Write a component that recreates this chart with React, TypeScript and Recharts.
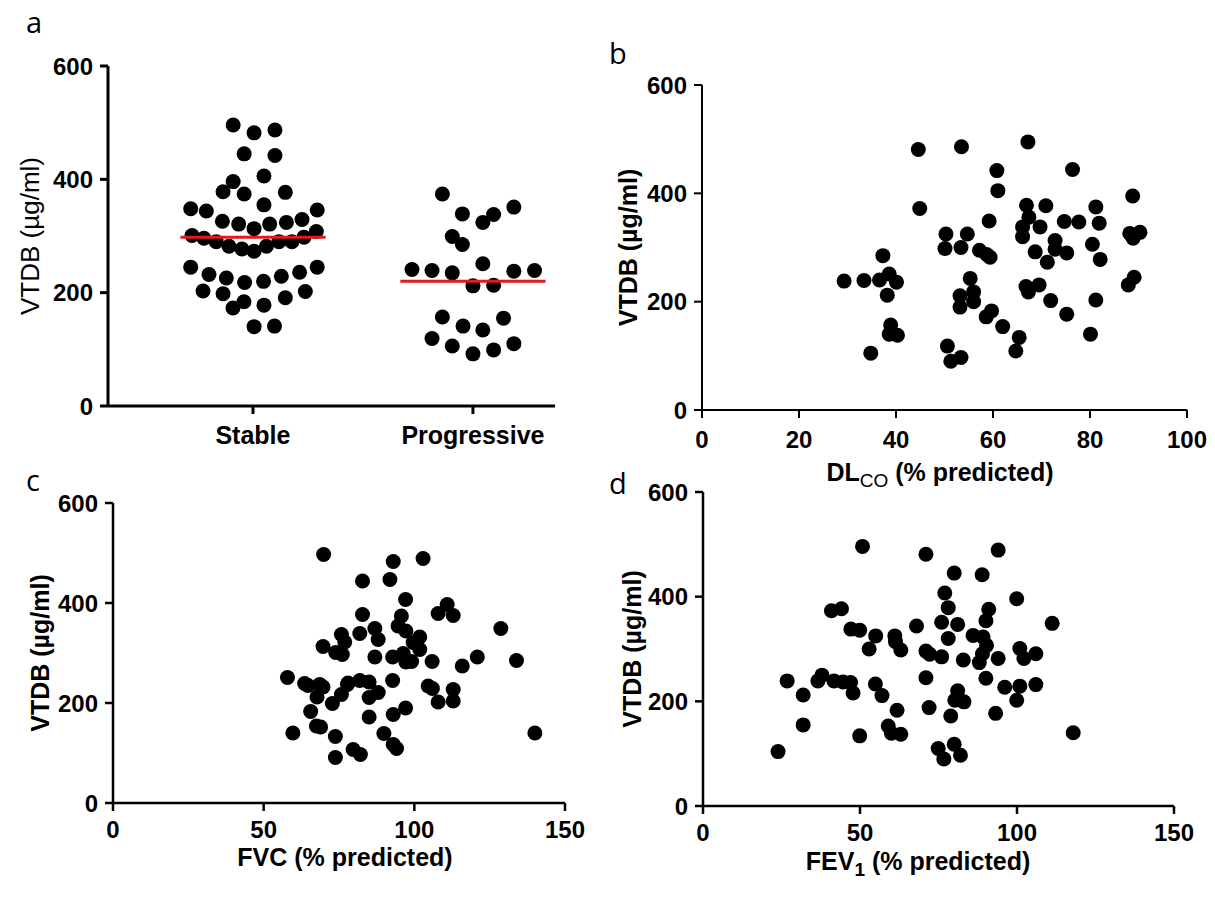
import React from 'react'
import { Scatter, ScatterChart, XAxis, YAxis } from 'recharts'

// panel a: VTDB by group (beeswarm, jitter)
const groups = ['Stable', 'Progressive']
const stableVtdb = [
  496, 482, 487, 445, 442, 406, 396, 378, 374, 377, 355, 348, 344, 346, 326, 321,
  313, 321, 324, 329, 301, 296, 290, 282, 277, 273, 282, 290, 290, 298, 308, 245,
  232, 226, 218, 220, 229, 236, 245, 203, 198, 184, 173, 178, 191, 202, 140, 141,
]
const stableJitter = [
  -0.09, 0.005, 0.1, -0.04, 0.1, 0.05, -0.09, -0.136, -0.04, 0.147, 0.05, -0.283,
  -0.212, 0.292, -0.139, -0.065, 0.005, 0.076, 0.152, 0.223, -0.277, -0.223, -0.167,
  -0.109, -0.05, 0.005, 0.061, 0.118, 0.177, 0.232, 0.288, -0.283, -0.2, -0.121,
  -0.038, 0.048, 0.129, 0.212, 0.292, -0.227, -0.136, -0.041, -0.091, 0.05, 0.147,
  0.238, 0.005, 0.098,
]
const progressiveVtdb = [
  374, 339, 324, 338, 351, 299, 285, 241, 239, 235, 251, 238, 239, 212, 213, 157,
  155, 141, 134, 119, 106, 92, 99, 110,
]
const progressiveJitter = [
  -0.139, -0.048, 0.045, 0.094, 0.186, -0.094, -0.048, -0.277, -0.186, -0.094, 0.045,
  0.186, 0.28, 0, 0.094, -0.139, 0.139, -0.045, 0.045, -0.186, -0.094, 0, 0.094, 0.186,
]
const groupMeans = [298, 220]

// panel b: VTDB vs DLCO
const dlcoPct = [
  44.6, 44.9, 37.3, 29.3, 33.4, 36.6, 38.6, 40.1, 38.2, 38.9, 38.6, 40.3, 34.8, 53.5,
  67.2, 60.8, 76.4, 61.0, 88.8, 66.9, 70.9, 81.2, 59.2, 67.4, 74.7, 77.7, 81.9, 66.1,
  69.7, 50.3, 54.7, 66.1, 88.2, 90.3, 88.9, 72.8, 80.5, 50.1, 53.4, 57.2, 58.7, 59.4,
  72.8, 75.2, 68.7, 71.2, 82.1, 55.3, 56.0, 53.2, 56.0, 53.2, 66.8, 69.5, 67.3, 89.1,
  87.9, 71.9, 81.2, 59.7, 58.6, 62.0, 75.2, 80.1, 65.4, 64.7, 50.6, 51.3, 53.4,
]
const dlcoVtdb = [
  481, 372, 285, 238, 239, 240, 251, 236, 212, 157, 140, 138, 105, 486, 495, 442, 444,
  405, 395, 378, 377, 375, 349, 356, 348, 347, 345, 338, 338, 325, 325, 320, 326, 328,
  317, 313, 306, 298, 300, 295, 287, 282, 297, 290, 292, 273, 278, 243, 218, 211, 200,
  190, 228, 231, 218, 245, 231, 202, 203, 183, 172, 154, 177, 140, 134, 109, 118, 90, 97,
]

// panel c: VTDB vs FVC
const fvcPct = [
  69.9, 75.8, 76.9, 69.7, 73.9, 76.1, 57.9, 63.6, 64.7, 68.6, 69.7, 67.7, 75.8, 77.8,
  72.8, 65.6, 67.5, 68.9, 59.7, 73.8, 73.8, 93.0, 102.9, 82.8, 91.9, 97.1, 110.9, 107.9,
  112.9, 82.8, 95.7, 94.6, 97.2, 128.7, 81.9, 86.9, 88.0, 101.8, 99.6, 101.8, 86.9, 92.8,
  96.3, 97.2, 99.1, 105.9, 120.9, 115.9, 133.9, 78.0, 81.9, 85.0, 88.0, 85.0, 92.8, 104.6,
  106.0, 112.9, 112.9, 107.9, 85.0, 93.0, 97.1, 89.9, 93.0, 94.1, 79.7, 82.1, 140.0,
]
const fvcVtdb = [
  497, 337, 322, 313, 301, 297, 251, 239, 235, 237, 232, 212, 217, 237, 199, 183, 154,
  152, 140, 133, 91, 483, 489, 444, 447, 407, 397, 379, 375, 377, 374, 354, 344, 349,
  339, 349, 327, 332, 321, 307, 292, 292, 299, 282, 283, 283, 292, 274, 285, 240, 245,
  242, 221, 211, 245, 234, 229, 227, 204, 202, 172, 177, 190, 139, 117, 109, 107, 97, 140,
]

// panel d: VTDB vs FEV1
const fev1Pct = [
  50.8, 71.0, 40.9, 44.1, 47.1, 49.9, 55.0, 61.1, 61.3, 63.0, 52.9, 68.0, 71.0, 72.2,
  26.8, 31.9, 36.6, 37.9, 41.7, 44.6, 47.0, 47.8, 54.9, 57.0, 71.0, 61.8, 72.0, 31.9,
  49.9, 59.0, 60.0, 63.0, 23.9, 94.0, 80.0, 88.9, 77.0, 99.9, 78.1, 91.0, 90.1, 111.2,
  76.0, 81.1, 78.1, 86.0, 89.2, 90.3, 76.0, 82.9, 88.0, 89.0, 94.0, 100.9, 102.2, 106.0,
  90.1, 96.1, 100.9, 106.0, 99.9, 81.1, 80.2, 83.1, 78.9, 93.2, 117.9, 74.9, 80.0, 76.7,
  82.0,
]
const fev1Vtdb = [
  496, 481, 373, 377, 338, 336, 325, 325, 314, 298, 300, 344, 296, 290, 239, 212, 239,
  250, 239, 237, 236, 216, 233, 211, 245, 183, 188, 155, 134, 153, 139, 137, 104, 489,
  445, 442, 407, 396, 379, 376, 354, 349, 351, 347, 320, 326, 323, 307, 285, 279, 274,
  291, 282, 301, 282, 291, 244, 227, 229, 232, 202, 220, 202, 199, 172, 177, 140, 110,
  118, 90, 97,
]

const yTicks = [0, 200, 400, 600]

const FONT = '"Liberation Sans", Arial, Helvetica, sans-serif'
const tickStyle = { fill: '#000', fontSize: 24, fontWeight: 700, fontFamily: FONT }

const toPoints = (xs: number[], ys: number[]) => xs.map((x, i) => ({ x, y: ys[i] }))

const stablePoints = stableVtdb.map((y, i) => ({ x: 0 + stableJitter[i], y }))
const progressivePoints = progressiveVtdb.map((y, i) => ({ x: 1 + progressiveJitter[i], y }))
const meanHalf = 0.33
const stableMean = [
  { x: -meanHalf, y: groupMeans[0] },
  { x: meanHalf, y: groupMeans[0] },
]
const progressiveMean = [
  { x: 1 - meanHalf, y: groupMeans[1] },
  { x: 1 + meanHalf, y: groupMeans[1] },
]

const Dot = (props: any) => <circle cx={props.cx} cy={props.cy} r={7.5} fill="#000" />
const NoDot = () => <g />

// rotated y axis title
const yTitle = (cx: number, bold: boolean) => (props: any) => {
  const vb = props.viewBox
  const cy = vb.y + vb.height / 2
  return (
    <text
      x={cx}
      y={cy}
      transform={`rotate(-90 ${cx} ${cy})`}
      textAnchor="middle"
      dominantBaseline="central"
      fontFamily={FONT}
      fontSize={bold ? 25 : 26}
      fontWeight={bold ? 700 : 400}
      fill="#000"
    >
      VTDB (µg/ml)
    </text>
  )
}

const xTitle = (cx: number, y: number, main: string, sub: string, rest: string, subBold: boolean) =>
  () => (
    <text x={cx} y={y} textAnchor="middle" fontFamily={FONT} fontSize={25} fontWeight={700} fill="#000">
      {main}
      <tspan fontSize={19} fontWeight={subBold ? 700 : 400} dy={6}>
        {sub}
      </tspan>
      <tspan dy={-6}>{rest}</tspan>
    </text>
  )

interface PanelProps {
  left: number
  top: number
  width: number
  height: number
  marginTop: number
  marginRight: number
  yWidth: number
  xHeight: number
  xDomain: [number, number]
  xTicks: number[]
  xTickMargin: number
  stroke: number
  yTitleX: number
  yBold: boolean
  xLabel?: (props: any) => React.ReactElement
  xFormatter?: (v: number) => string
  xTickStyle?: any
  children: React.ReactNode
}

const Panel = (p: PanelProps) => (
  <div style={{ position: 'absolute', left: p.left, top: p.top }}>
    <ScatterChart
      width={p.width}
      height={p.height}
      margin={{ top: p.marginTop, right: p.marginRight, bottom: 0, left: 0 }}
    >
      <XAxis
        type="number"
        dataKey="x"
        domain={p.xDomain}
        ticks={p.xTicks}
        interval={0}
        allowDataOverflow
        height={p.xHeight}
        tick={p.xTickStyle || tickStyle}
        tickSize={8}
        tickMargin={p.xTickMargin}
        tickFormatter={p.xFormatter}
        axisLine={{ stroke: '#000', strokeWidth: p.stroke }}
        tickLine={{ stroke: '#000', strokeWidth: p.stroke }}
        label={p.xLabel ? { content: p.xLabel } : undefined}
      />
      <YAxis
        type="number"
        dataKey="y"
        domain={[0, 600]}
        ticks={yTicks}
        interval={0}
        width={p.yWidth}
        tick={tickStyle}
        tickSize={8}
        tickMargin={7}
        axisLine={{ stroke: '#000', strokeWidth: p.stroke }}
        tickLine={{ stroke: '#000', strokeWidth: p.stroke }}
        label={{ content: yTitle(p.yTitleX, p.yBold) }}
      />
      {p.children}
    </ScatterChart>
  </div>
)

export default function App() {
  return (
    <div
      style={{
        position: 'fixed',
        left: 0,
        top: 0,
        width: 1215,
        height: 900,
        background: '#fff',
      }}
    >
      {/* a */}
      <Panel
        left={0}
        top={0}
        width={580}
        height={480}
        marginTop={66}
        marginRight={25}
        yWidth={108}
        xHeight={74}
        xDomain={[-0.659, 1.373]}
        xTicks={[0, 1]}
        xTickMargin={12}
        stroke={3}
        yTitleX={30}
        yBold={false}
        xFormatter={(v) => groups[v] ?? ''}
        xTickStyle={{ ...tickStyle, fontSize: 25 }}
      >
        <Scatter data={stablePoints} shape={Dot} isAnimationActive={false} />
        <Scatter data={progressivePoints} shape={Dot} isAnimationActive={false} />
        <Scatter
          data={stableMean}
          shape={NoDot}
          line={{ stroke: '#e31a1c', strokeWidth: 3 }}
          isAnimationActive={false}
        />
        <Scatter
          data={progressiveMean}
          shape={NoDot}
          line={{ stroke: '#e31a1c', strokeWidth: 3 }}
          isAnimationActive={false}
        />
      </Panel>

      {/* b */}
      <Panel
        left={600}
        top={0}
        width={615}
        height={500}
        marginTop={85}
        marginRight={28}
        yWidth={102}
        xHeight={90}
        xDomain={[0, 100]}
        xTicks={[0, 20, 40, 60, 80, 100]}
        xTickMargin={13}
        stroke={2}
        yTitleX={28}
        yBold
        xLabel={xTitle(340, 481, 'DL', 'CO', ' (% predicted)', false)}
      >
        <Scatter data={toPoints(dlcoPct, dlcoVtdb)} shape={Dot} isAnimationActive={false} />
      </Panel>

      {/* c */}
      <Panel
        left={0}
        top={460}
        width={600}
        height={440}
        marginTop={43}
        marginRight={35}
        yWidth={113}
        xHeight={97}
        xDomain={[0, 150]}
        xTicks={[0, 50, 100, 150]}
        xTickMargin={10}
        stroke={2.5}
        yTitleX={40}
        yBold
        xLabel={xTitle(345, 406, 'FVC (% predicted)', '', '', true)}
      >
        <Scatter data={toPoints(fvcPct, fvcVtdb)} shape={Dot} isAnimationActive={false} />
      </Panel>

      {/* d */}
      <Panel
        left={600}
        top={460}
        width={615}
        height={440}
        marginTop={32}
        marginRight={41}
        yWidth={103}
        xHeight={94}
        xDomain={[0, 150]}
        xTicks={[0, 50, 100, 150]}
        xTickMargin={10}
        stroke={2.5}
        yTitleX={32}
        yBold
        xLabel={xTitle(318, 410, 'FEV', '1', ' (% predicted)', true)}
      >
        <Scatter data={toPoints(fev1Pct, fev1Vtdb)} shape={Dot} isAnimationActive={false} />
      </Panel>

      {/* panel letters */}
      <svg
        width={1215}
        height={900}
        style={{ position: 'absolute', left: 0, top: 0, pointerEvents: 'none' }}
      >
        <g fontFamily='"Open Sans", "Noto Sans", sans-serif' fontSize={29} fill="#000">
          <text x={26} y={33}>a</text>
          <text x={609} y={64}>b</text>
          <text x={26} y={491}>c</text>
          <text x={609} y={494}>d</text>
        </g>
      </svg>
    </div>
  )
}
